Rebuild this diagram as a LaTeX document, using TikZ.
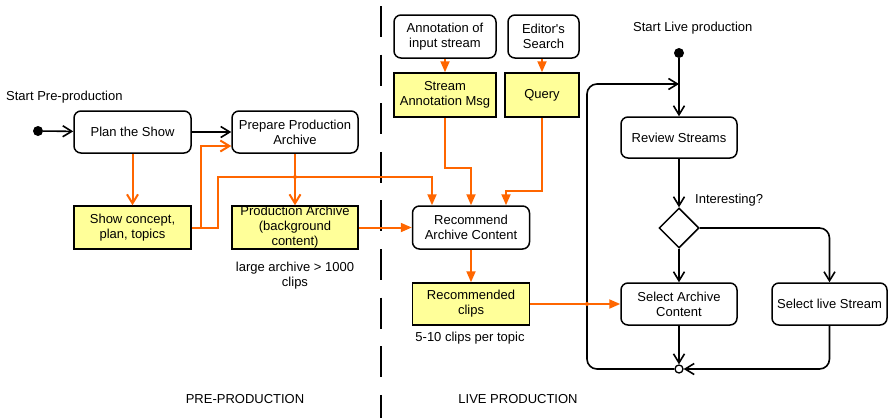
\documentclass[tikz,border=0pt]{standalone}
\usepackage{fontspec}
\setmainfont{Liberation Sans}
\usetikzlibrary{arrows.meta,shapes.geometric}
\definecolor{notefill}{HTML}{FFFF99}
\definecolor{flowor}{HTML}{FF6600}
\tikzset{
  act/.style={draw, rounded corners=7pt, line width=1.5pt, align=center, inner sep=1pt},
  obj/.style={draw, fill=notefill, line width=1.5pt, align=center, inner sep=1pt},
  lbl/.style={inner sep=0pt, align=center},
  startdot/.style={circle, fill, inner sep=0pt, minimum size=10pt},
  mergedot/.style={circle, draw, fill=white, line width=1.3pt, inner sep=0pt, minimum size=8pt},
  ctrl/.style={line width=1.6pt, -{Straight Barb[length=9pt,width=11pt]}},
  data/.style={flowor, line width=2pt, -{Straight Barb[length=9pt,width=11pt]}},
  datatip/.style={flowor, line width=2pt, -{Triangle[length=11pt,width=9pt]}},
}

\begin{document}
\begin{tikzpicture}[x=1pt, y=-1pt, font=\fontsize{13}{15}\selectfont]
  \useasboundingbox (0,0) rectangle (889,418);
  % lane separator and lane titles
  \draw[line width=2pt, dash pattern=on 31pt off 17.6pt] (381,6) -- (381,418);
  \node[lbl] (prelane) at (245,399) {PRE-PRODUCTION};
  \node[lbl] (livelane) at (518,399) {LIVE PRODUCTION};

  % pre-production
  \node[lbl, anchor=west] (prestart) at (6,97) {Start Pre-production};
  \node[startdot] (pdot) at (38,131) {};
  \node[act, minimum width=117, minimum height=42] (plan) at (132.5,132) {Plan the Show};
  \node[act, minimum width=126, minimum height=42] (prep) at (295,132) {Prepare Production\\Archive};
  \node[obj, minimum width=117, minimum height=43] (concept) at (132.5,227.5) {Show concept,\\plan, topics};
  \node[obj, minimum width=126, minimum height=43, inner sep=0pt] (parch) at (295,227.5) {Production Archive\\(background\\content)};
  \node[lbl] (archnote) at (295,275.5) {large archive > 1000\\clips};
  \coordinate (j1) at (295,177);

  % live production, archive side
  \node[act, minimum width=102, minimum height=43] (annot) at (445,36.5) {Annotation of\\input stream};
  \node[act, minimum width=71, minimum height=43] (search) at (543.5,36.5) {Editor\textquotesingle s\\Search};
  \node[obj, minimum width=102, minimum height=44] (sam) at (445,95) {Stream\\Annotation Msg};
  \node[obj, minimum width=74, minimum height=44] (query) at (542,95) {Query};
  \node[act, minimum width=117, minimum height=43] (recomm) at (471,227.5) {Recommend\\Archive Content};
  \node[obj, minimum width=117, minimum height=42] (rclips) at (471,304) {Recommended\\clips};
  \node[lbl] (clipnote) at (470,338) {5-10 clips per topic};

  % live production, stream side
  \node[lbl, anchor=west] (livestart) at (633,28) {Start Live production};
  \node[startdot] (ldot) at (679,53) {};
  \coordinate (top) at (679,84);
  \coordinate (lp) at (587,84);
  \node[act, minimum width=116, minimum height=41] (review) at (679,137.5) {Review Streams};
  \node[diamond, draw, line width=1.5pt, aspect=1, minimum size=40pt, inner sep=0pt] (dec) at (679,228) {};
  \node[lbl, anchor=west] (declbl) at (695,200) {Interesting?};
  \node[act, minimum width=116, minimum height=42] (selarch) at (679,304) {Select Archive\\Content};
  \node[act, minimum width=115, minimum height=42] (sellive) at (829.5,304) {Select live Stream};
  \node[mergedot] (merge) at (679,369) {};
  \coordinate (j2) at (587,304);

  % control flow
  \draw[ctrl] (pdot) -- (plan);
  \draw[ctrl] (plan) -- (prep);
  \draw[ctrl] (ldot) -- (review);
  \draw[ctrl, rounded corners=10pt] (merge.west) -| (lp) -- (top);
  \draw[ctrl] (review) -- (dec.north);
  \draw[ctrl] (dec.south) -- (selarch);
  \draw[ctrl, rounded corners=10pt] (dec.east) -| (sellive);
  \draw[ctrl] (selarch) -- (merge);
  \draw[ctrl, rounded corners=10pt] (sellive) |- (merge.east);

  % object flow
  \draw[data] (plan) -- (concept);
  \draw[data] (concept.east) -- ++(9,0) |- ([yshift=-14pt]prep.west);
  \draw[datatip] (concept.east) -- ++(26,0) |- (j1) -| ([xshift=-39pt]recomm.north);
  \draw[data] (prep) -- (parch);
  \draw[datatip] (parch) -- (recomm);
  \draw[datatip] (annot) -- (sam);
  \draw[datatip] (query |- search.south) -- (query);
  \draw[datatip] (sam.south) -- ++(0,50) -| (recomm.north);
  \draw[datatip] (query.south) -- ++(0,73) -| ([xshift=35pt]recomm.north);
  \draw[datatip] (recomm) -- (rclips);
  \draw[datatip] (rclips) -- (selarch);
  \fill[flowor] (j1) circle (2pt);
  \fill[flowor] (j2) circle (2pt);
\end{tikzpicture}
\end{document}
